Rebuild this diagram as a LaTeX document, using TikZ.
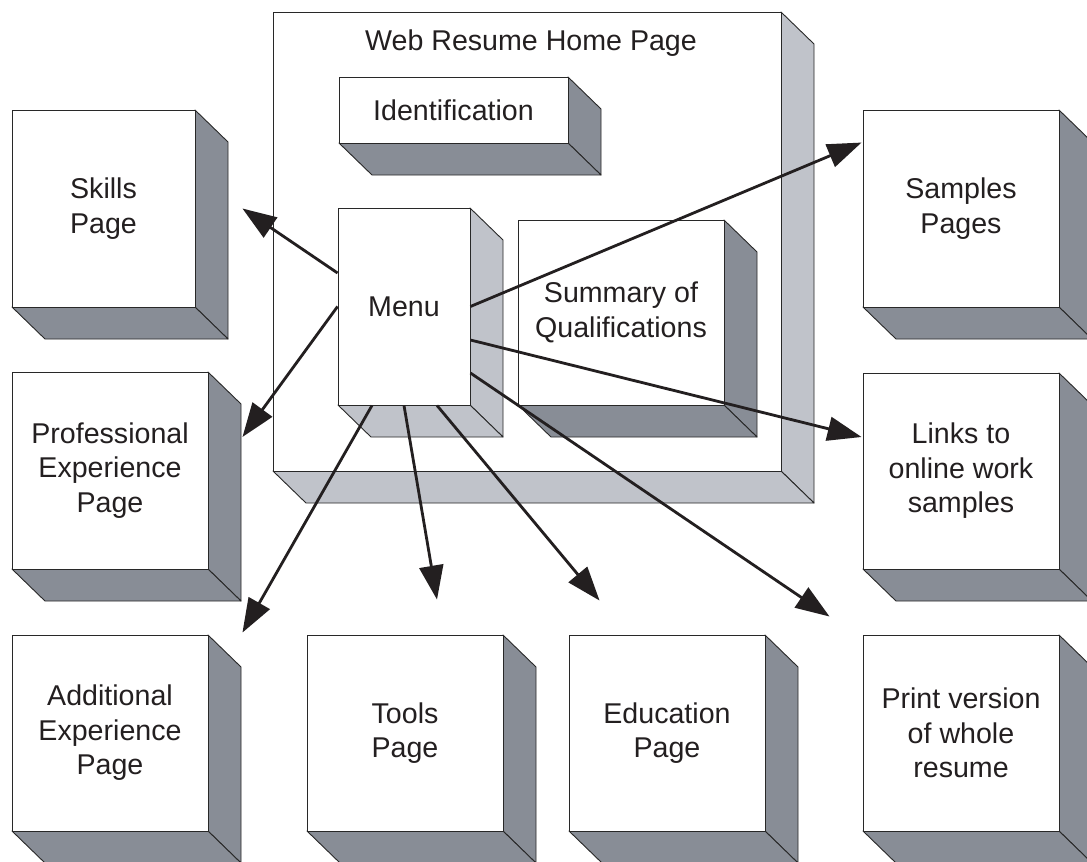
\documentclass[tikz,border=0pt]{standalone}
\usepackage{fontspec}
\setmainfont{Liberation Sans}
\usetikzlibrary{arrows.meta,calc}

\definecolor{darkface}{RGB}{136,141,150}
\definecolor{lightface}{RGB}{192,195,202}
\definecolor{edgeline}{RGB}{40,40,40}
\definecolor{ink}{RGB}{35,31,32}

\tikzset{
  face/.style={draw=edgeline, line width=0.9pt, fill=white, inner sep=0pt,
    align=center, text=ink, font=\fontsize{28.6}{34.5}\selectfont},
  side/.style={draw=edgeline, line width=0.9pt, line join=round},
  link/.style={draw=ink, line width=2.8pt,
    -{Triangle[length=34pt,width=24pt]}},
}

% 3-D page block: name, x1, y1, x2, y2 (front face), side colour, label
\newcommand{\pageblock}[7]{%
  \filldraw[side, fill=#6] (#4,#3) -- (#4+33,#3+32) -- (#4+33,#5+32) -- (#4,#5) -- cycle;
  \filldraw[side, fill=#6] (#2,#5) -- (#4,#5) -- (#4+33,#5+32) -- (#2+33,#5+32) -- cycle;
  \node[face, minimum width={(#4-#2)*1pt}, minimum height={(#5-#3)*1pt}]
    (#1) at ({(#2+#4)/2},{(#3+#5)/2}) {#7};
}

\begin{document}
\begin{tikzpicture}[x=1pt, y=-1pt]
  \useasboundingbox (0,0) rectangle (1087,862);
  \clip (0,0) rectangle (1087,862);
  \fill[white] (0,0) rectangle (1087,862);

  % home page with its inner blocks
  \pageblock{home}{273}{12}{781}{471}{lightface}{}
  \node[font=\fontsize{28.6}{34.5}\selectfont, text=ink] (title) at (531,43) {Web Resume Home Page};
  \pageblock{ident}{339}{77}{568}{143}{darkface}{Identification}
  \pageblock{menu}{338}{208}{470}{405}{lightface}{Menu}
  \pageblock{summary}{518}{220}{724}{405}{darkface}{Summary of\\Qualifications}

  % linked pages
  \pageblock{skills}{12}{110}{195}{307}{darkface}{Skills\\Page}
  \pageblock{prof}{12}{372}{208}{569}{darkface}{Professional\\Experience\\Page}
  \pageblock{addl}{12}{635}{208}{831}{darkface}{Additional\\Experience\\Page}
  \pageblock{samples}{863}{110}{1059}{307}{darkface}{Samples\\Pages}
  \pageblock{links}{863}{373}{1059}{569}{darkface}{Links to\\online work\\samples}
  \pageblock{tools}{307}{635}{503}{831}{darkface}{Tools\\Page}
  \pageblock{edu}{569}{635}{765}{831}{darkface}{Education\\Page}
  \pageblock{print}{863}{635}{1059}{831}{darkface}{Print version\\of whole\\resume}

  % menu links
  \draw[link] ($(menu.west)+(0,-33.5)$) -- ($(skills.east)+(47,0)$);
  \draw[link] (menu.west) -- ($(prof.east)+(34,-33.5)$);
  \draw[link] (menu.east) -- ($(samples.north west)+(-1,33)$);
  \draw[link] ($(menu.east)+(0,33.5)$) -- ($(links.west)+(-1,-34)$);
  \draw[link] ($(menu.east)+(0,66.5)$) -- ($(print.north west)+(-33,-18)$);
  \draw[link] ($(menu.south)+(-32,0)$) -- ($(addl.north east)+(34,-2)$);
  \draw[link] (menu.south) -- ($(tools.north)+(32,-35)$);
  \draw[link] ($(menu.south)+(33,0)$) -- ($(edu.north west)+(31,-34)$);
\end{tikzpicture}
\end{document}
